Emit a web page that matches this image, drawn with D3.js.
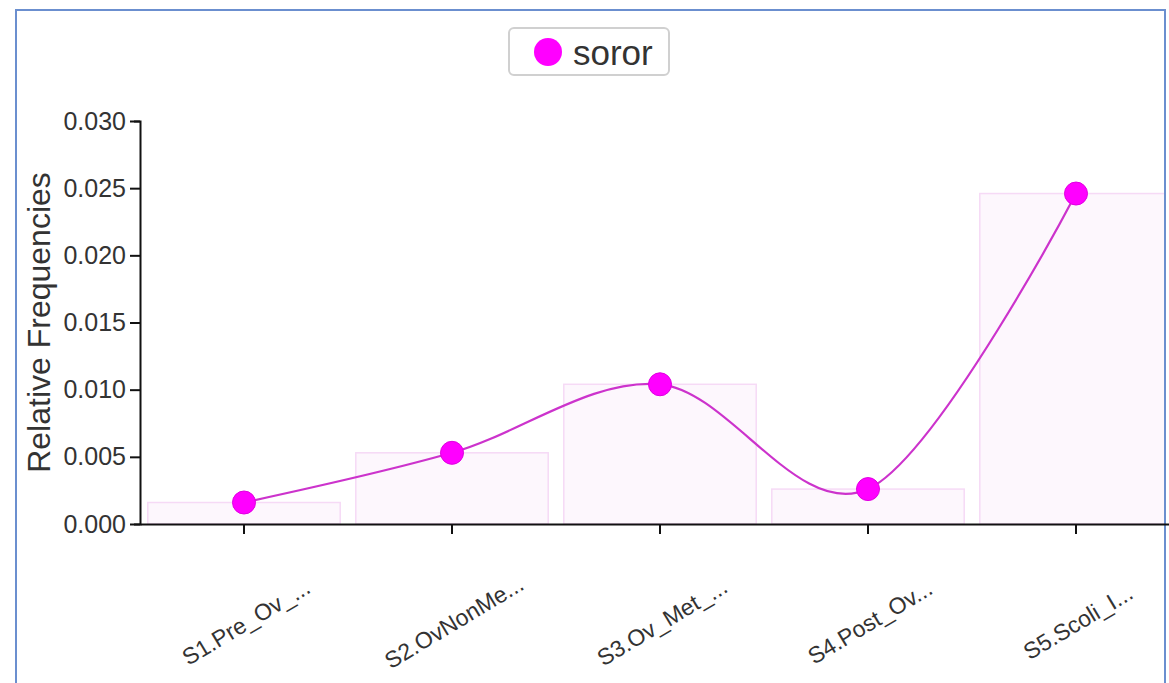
<!DOCTYPE html>
<html>
<head>
<meta charset="utf-8">
<script src="https://cdn.jsdelivr.net/npm/d3@7"></script>
<style>
  html, body { margin: 0; padding: 0; background: #fff; }
  svg { display: block; font-family: "Liberation Sans", Arial, Helvetica, sans-serif; }
</style>
</head>
<body>
<svg id="chart" width="1169" height="683"></svg>
<script>
// Stage categories and relative frequencies for the "soror" series
const categories = ["S1.Pre_Ov_...", "S2.OvNonMe...", "S3.Ov_Met_...", "S4.Post_Ov...", "S5.Scoli_I..."];
const seriesName = "soror";
const values = [0.0016, 0.0053, 0.0104, 0.0026, 0.0246];
const yTicks = [0, 0.005, 0.010, 0.015, 0.020, 0.025, 0.030];

const svg = d3.select("#chart");
const W = 1169, H = 683;
const margin = { left: 140, top: 121, right: -11, bottom: 159 };

// panel frame
svg.append("path")
  .attr("d", `M16,${H + 5}V10H1165V${H + 5}`)
  .attr("fill", "none")
  .attr("stroke", "#6b8fcf")
  .attr("stroke-width", 2);

const x = d3.scaleBand()
  .domain(categories)
  .range([margin.left, W - margin.right])
  .paddingInner(0.075)
  .paddingOuter(0.0375);

const y = d3.scaleLinear()
  .domain([0, 0.030])
  .range([H - margin.bottom, margin.top]);

const data = categories.map((c, i) => ({ cat: c, v: values[i] }));

svg.append("clipPath").attr("id", "plotclip")
  .append("rect").attr("x", 0).attr("y", 0).attr("width", 1164).attr("height", H);

const plot = svg.append("g").attr("clip-path", "url(#plotclip)");

// background bars
plot.selectAll("rect.bar")
  .data(data)
  .join("rect")
  .attr("class", "bar")
  .attr("x", d => x(d.cat))
  .attr("y", d => y(d.v))
  .attr("width", x.bandwidth())
  .attr("height", d => y(0) - y(d.v))
  .attr("fill", "#fdf7fd")
  .attr("stroke", "#f6daf6")
  .attr("stroke-width", 1.5);

// smooth line through the points
const line = d3.line()
  .x(d => x(d.cat) + x.bandwidth() / 2)
  .y(d => y(d.v))
  .curve(d3.curveCardinal);

plot.append("path")
  .datum(data)
  .attr("d", line)
  .attr("fill", "none")
  .attr("stroke", "#cc33cc")
  .attr("stroke-width", 2.2);

// axes
const xAxis = d3.axisBottom(x).tickSize(10).tickSizeOuter(0);
const gx = svg.append("g")
  .attr("transform", `translate(0,${y(0)})`)
  .call(xAxis);
gx.select(".domain").attr("stroke", "#111").attr("stroke-width", 2);
gx.selectAll(".tick line").attr("stroke", "#111").attr("stroke-width", 2);
gx.selectAll(".tick text")
  .attr("fill", "#333")
  .attr("font-size", 23)
  .attr("text-anchor", "middle")
  .attr("y", 0)
  .attr("dy", "0.35em")
  .attr("transform", "translate(2,98) rotate(-31)");

const yAxis = d3.axisLeft(y).tickValues(yTicks).tickFormat(d3.format(".3f")).tickSize(10).tickSizeOuter(6);
const gy = svg.append("g")
  .attr("transform", `translate(${margin.left},0)`)
  .call(yAxis);
gy.select(".domain").attr("stroke", "#111").attr("stroke-width", 2);
gy.selectAll(".tick line").attr("stroke", "#111").attr("stroke-width", 2);
gy.selectAll(".tick text")
  .attr("fill", "#333")
  .attr("font-size", 25)
  .attr("x", -14);

svg.append("text")
  .attr("transform", `translate(50,${(y(0) + y(0.03)) / 2}) rotate(-90)`)
  .attr("text-anchor", "middle")
  .attr("font-size", 32)
  .attr("fill", "#333")
  .text("Relative Frequencies");

// points
plot.selectAll("circle.pt")
  .data(data)
  .join("circle")
  .attr("class", "pt")
  .attr("cx", d => x(d.cat) + x.bandwidth() / 2)
  .attr("cy", d => y(d.v))
  .attr("r", 11.5)
  .attr("fill", "#ff00ff")
  .attr("stroke", "#e000e0")
  .attr("stroke-width", 1);

// legend
const lg = svg.append("g").attr("transform", "translate(509,28)");
lg.append("rect")
  .attr("x", 0).attr("y", 0).attr("width", 160).attr("height", 47)
  .attr("rx", 5)
  .attr("fill", "#fff")
  .attr("stroke", "#d0d0d0")
  .attr("stroke-width", 2);
lg.append("circle")
  .attr("cx", 39).attr("cy", 24).attr("r", 14)
  .attr("fill", "#ff00ff");
lg.append("text")
  .attr("x", 64).attr("y", 37)
  .attr("font-size", 35)
  .attr("fill", "#333")
  .text(seriesName);
</script>
</body>
</html>
